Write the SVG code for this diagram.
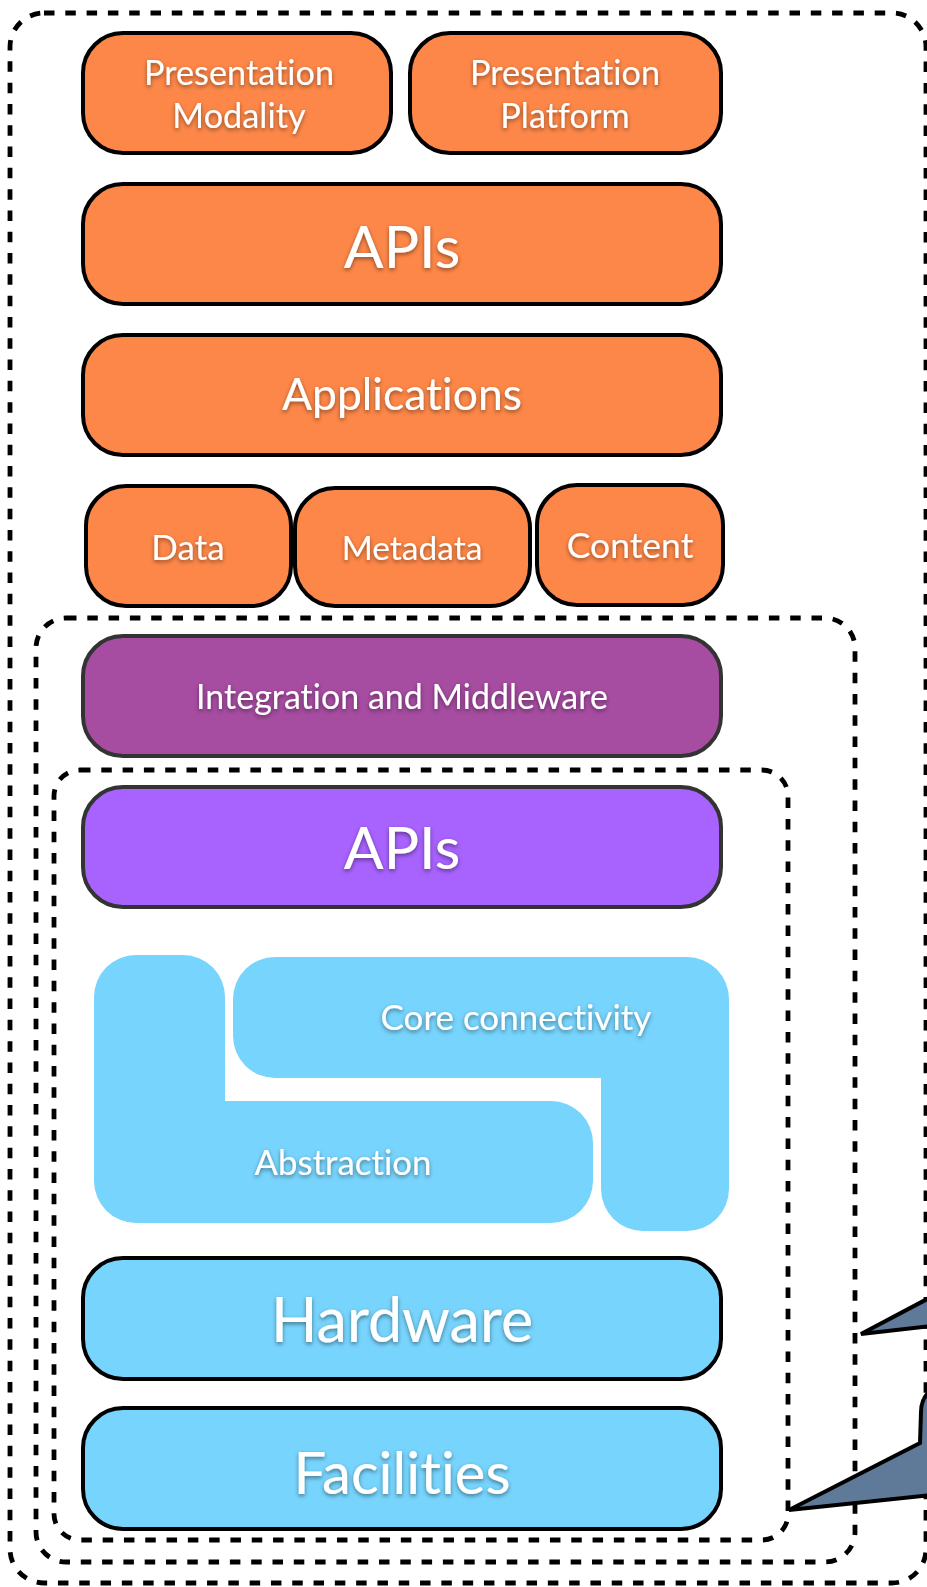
<svg xmlns="http://www.w3.org/2000/svg" width="927" height="1587" viewBox="0 0 927 1587">
<defs>
<filter id="ts" x="-20%" y="-40%" width="140%" height="180%">
<feDropShadow dx="0" dy="2" stdDeviation="2" flood-color="#000" flood-opacity="0.45"/>
</filter>
<style>
.dash{fill:none;stroke:#000;stroke-width:4.8;stroke-dasharray:10.5 10.8}
.or{fill:#fd8748;stroke:#000;stroke-width:4}
.pu{fill:#a64ca1;stroke:#333;stroke-width:4}
.vi{fill:#a862fe;stroke:#333;stroke-width:4}
.bl{fill:#77d4fd;stroke:#000;stroke-width:4}
.lb{fill:#77d4fd}
.t{font-family:Lato,"Open Sans","DejaVu Sans",sans-serif;fill:#fff;text-anchor:middle;filter:url(#ts);font-variant-ligatures:none;font-feature-settings:"liga" 0}
.tail{fill:#5f7a98;stroke:#000;stroke-width:4;stroke-linejoin:miter}
</style>
</defs>
<rect width="927" height="1587" fill="#fff"/>
<g id="containers">
<rect class="dash" x="10" y="13" width="916" height="1570" rx="34"/>
<rect class="dash" x="36" y="618" width="819" height="944" rx="30"/>
<rect class="dash" x="54" y="770" width="734" height="770" rx="26"/>
</g>
<g id="presentation-modality"><rect class="or" x="83" y="33" width="308" height="120" rx="40"/>
<text class="t" x="239" y="85" font-size="34.3">Presentation</text><text class="t" x="239" y="128" font-size="34.3">Modality</text></g>
<g id="presentation-platform"><rect class="or" x="410" y="33" width="311" height="120" rx="40"/>
<text class="t" x="565" y="85" font-size="34.3">Presentation</text><text class="t" x="565" y="128" font-size="34.3">Platform</text></g>
<g id="apis-top"><rect class="or" x="83" y="184" width="638" height="120" rx="40"/>
<text class="t" x="402" y="268" font-size="59">APIs</text></g>
<g id="applications"><rect class="or" x="83" y="335" width="638" height="120" rx="40"/>
<text class="t" x="402" y="410" font-size="44.5">Applications</text></g>
<g id="data"><rect class="or" x="86" y="486" width="205" height="120" rx="40"/>
<text class="t" x="188" y="560" font-size="35">Data</text></g>
<g id="metadata"><rect class="or" x="295" y="488" width="235" height="118" rx="40"/>
<text class="t" x="412" y="560" font-size="33.5">Metadata</text></g>
<g id="content"><rect class="or" x="537" y="485" width="186" height="120" rx="40"/>
<text class="t" x="630" y="558" font-size="35.5">Content</text></g>
<g id="integration"><rect class="pu" x="83" y="636" width="638" height="120" rx="40"/>
<text class="t" x="402" y="709" font-size="34">Integration and Middleware</text></g>
<g id="apis-bottom"><rect class="vi" x="83" y="787" width="638" height="120" rx="40"/>
<text class="t" x="402" y="869" font-size="59">APIs</text></g>
<g id="abstraction"><path class="lb" d="M136 955 H183 A42 42 0 0 1 225 997 V1101 H551 A42 42 0 0 1 593 1143 V1181 A42 42 0 0 1 551 1223 H136 A42 42 0 0 1 94 1181 V997 A42 42 0 0 1 136 955 Z"/>
<text class="t" x="343" y="1175" font-size="34.8">Abstraction</text></g>
<g id="core-connectivity"><path class="lb" d="M275 957 H687 A42 42 0 0 1 729 999 V1189 A42 42 0 0 1 687 1231 H643 A42 42 0 0 1 601 1189 V1078 H275 A42 42 0 0 1 233 1036 V999 A42 42 0 0 1 275 957 Z"/>
<text class="t" x="516" y="1030" font-size="35">Core connectivity</text></g>
<g id="hardware"><rect class="bl" x="83" y="1258" width="638" height="121" rx="40"/>
<text class="t" x="402" y="1342" font-size="61">Hardware</text></g>
<g id="facilities"><rect class="bl" x="83" y="1408" width="638" height="121" rx="40"/>
<text class="t" x="402" y="1494" font-size="58">Facilities</text></g>
<g id="connectors">
<path class="tail" d="M931 1297 L861 1334 L931 1326"/>
<path class="tail" d="M931 1390 Q921 1398 921 1412 L920 1443 L789 1510 L931 1495"/>
</g>
</svg>
